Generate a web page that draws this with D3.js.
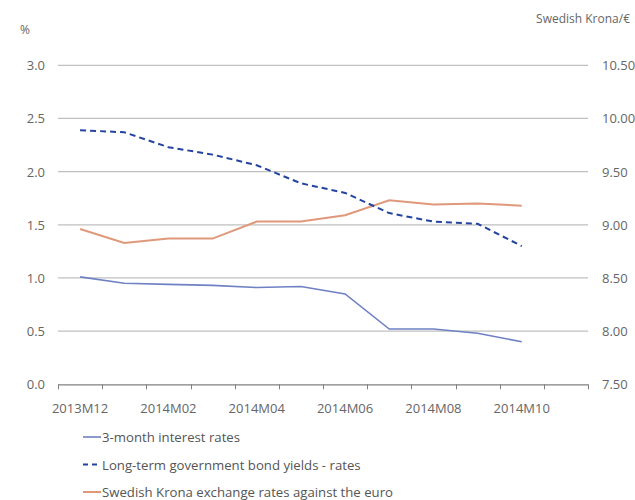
<!DOCTYPE html>
<html><head><meta charset="utf-8">
<script src="https://cdn.jsdelivr.net/npm/d3@7"></script>
<style>body{margin:0;background:#fff}svg{display:block}text{font-family:"Open Sans",sans-serif}</style>
</head><body>
<svg id="c" width="635" height="500"></svg>
<script>
const months = ["2013M12","2014M01","2014M02","2014M03","2014M04","2014M05","2014M06","2014M07","2014M08","2014M09","2014M10","2014M11"];
const threeMonth = [1.01,0.95,0.94,0.93,0.91,0.92,0.85,0.52,0.52,0.48,0.40];
const longTerm = [2.39,2.37,2.23,2.16,2.06,1.89,1.80,1.61,1.53,1.51,1.30];
const krona = [8.96,8.83,8.87,8.87,9.03,9.03,9.09,9.23,9.19,9.20,9.18];
const leftTicks = [0,0.5,1,1.5,2,2.5,3];
const rightTicks = [7.5,8,8.5,9,9.5,10,10.5];
const xLabels = ["2013M12","2014M02","2014M04","2014M06","2014M08","2014M10"];
const seriesNames = ["3-month interest rates","Long-term government bond yields - rates","Swedish Krona exchange rates against the euro"];

const svg = d3.select("#c");
const L = 58, R = 588, T = 65.3, B = 384.3;
const x = d3.scaleBand().domain(months).range([L, R]);
const yL = d3.scaleLinear().domain([0,3]).range([B, T]);
const yR = d3.scaleLinear().domain([7.5,10.5]).range([B, T]);
const cx = m => x(m) + x.bandwidth()/2;

// gridlines
svg.append("g").selectAll("line").data(leftTicks.slice(1)).join("line")
  .attr("x1", L).attr("x2", R).attr("y1", d=>yL(d)).attr("y2", d=>yL(d))
  .attr("stroke", "#c0c0c0").attr("stroke-width", 1.2);

// left labels
svg.append("g").selectAll("text").data(leftTicks).join("text")
  .attr("x", 45).attr("y", d=>yL(d)+5).attr("text-anchor","end")
  .attr("font-size", 13).attr("fill","#666").text(d=>d.toFixed(1));
// right labels
svg.append("g").selectAll("text").data(rightTicks).join("text")
  .attr("x", 602).attr("y", d=>yR(d)+5).attr("text-anchor","start")
  .attr("font-size", 13).attr("fill","#666").text(d=>d.toFixed(2));

svg.append("text").attr("x", 20).attr("y", 34).attr("font-size", 12).attr("fill","#666").text("%");
svg.append("text").attr("x", 630).attr("y", 23).attr("text-anchor","end").attr("font-size", 12).attr("fill","#666").text("Swedish Krona/€");

// x axis
const edges = months.map(m => x(m)).concat([R]);
const ax = svg.append("g");
ax.append("line").attr("x1", L).attr("x2", R).attr("y1", B+0.5).attr("y2", B+0.5).attr("stroke","#808080").attr("stroke-width",1.2);
ax.selectAll("line.t").data(edges).join("line").attr("class","t")
  .attr("x1", d=>Math.round(d)+0.5).attr("x2", d=>Math.round(d)+0.5).attr("y1", B).attr("y2", B+5)
  .attr("stroke","#808080");
ax.selectAll("text").data(xLabels).join("text")
  .attr("x", d=>cx(d)).attr("y", 413).attr("text-anchor","middle")
  .attr("font-size", 13).attr("fill","#666").text(d=>d);

// lines
const mk = (vals, y) => d3.line().x((d,i)=>cx(months[i])).y(d=>y(d))(vals);
svg.append("path").attr("d", mk(krona, yR)).attr("fill","none").attr("stroke","#e0987a").attr("stroke-width",2);
svg.append("path").attr("d", mk(threeMonth, yL)).attr("fill","none").attr("stroke","#6f80c4").attr("stroke-width",1.6);
svg.append("path").attr("d", mk(longTerm, yL)).attr("fill","none").attr("stroke","#2444a0").attr("stroke-width",2).attr("stroke-dasharray","6,4");

// legend
const leg = [
  {name: seriesNames[0], color:"#6f80c4", dash:null, w:1.6},
  {name: seriesNames[1], color:"#2444a0", dash:"5,4", w:2},
  {name: seriesNames[2], color:"#e0987a", dash:null, w:2}
];
const lg = svg.append("g").selectAll("g").data(leg).join("g")
  .attr("transform",(d,i)=>`translate(0,${437 + i*27.5})`);
lg.append("line").attr("x1",83).attr("x2",101).attr("y1",0).attr("y2",0)
  .attr("stroke",d=>d.color).attr("stroke-width",d=>d.w).attr("stroke-dasharray",d=>d.dash);
lg.append("text").attr("x",102).attr("y",5).attr("font-size",13.2).attr("fill","#555").text(d=>d.name);
</script>
</body></html>
